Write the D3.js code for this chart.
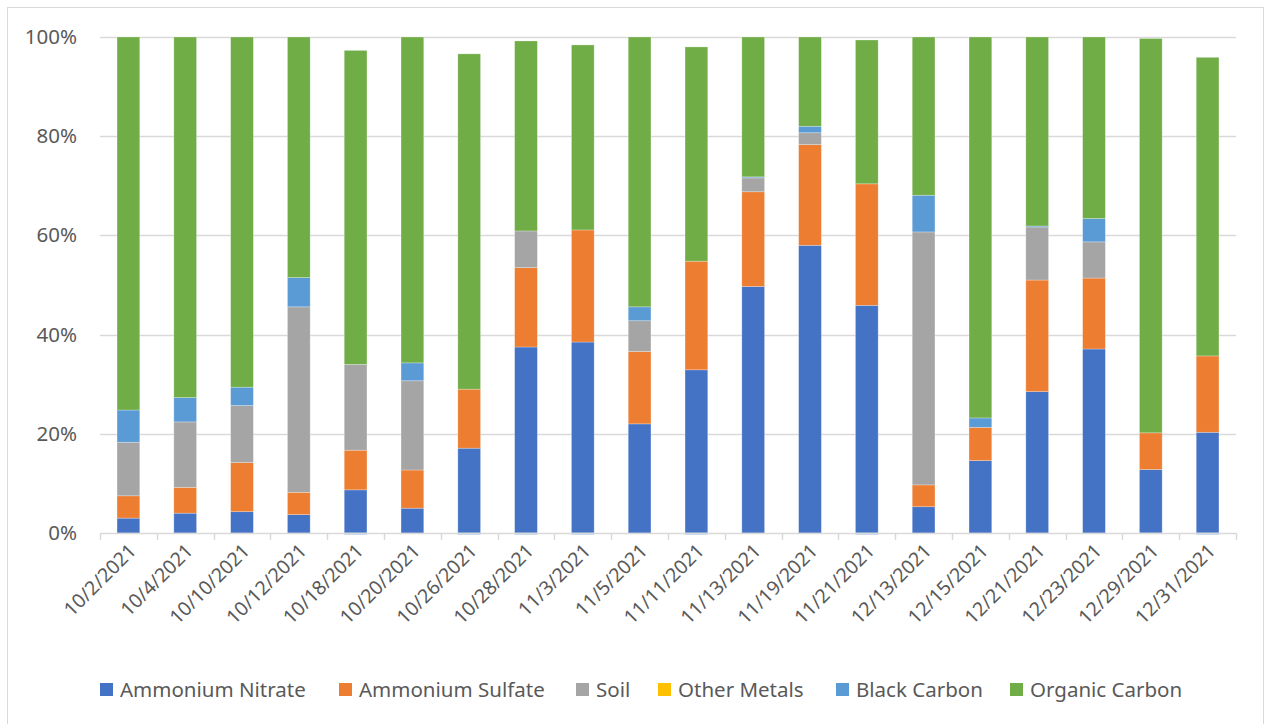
<!DOCTYPE html>
<html>
<head>
<meta charset="utf-8">
<script src="https://cdn.jsdelivr.net/npm/d3@7"></script>
<style>
    body { margin: 0; background: #fff; }
    text { font-family: "Noto Sans", "Open Sans", sans-serif; fill: #595959; }
</style>
</head>
<body>
<script>
(function() {

    //sample dates
    var dates = ["10/2/2021","10/4/2021","10/10/2021","10/12/2021","10/18/2021","10/20/2021",
        "10/26/2021","10/28/2021","11/3/2021","11/5/2021","11/11/2021","11/13/2021",
        "11/19/2021","11/21/2021","12/13/2021","12/15/2021","12/21/2021","12/23/2021",
        "12/29/2021","12/31/2021"];

    //series names and colours
    var seriesNames = ["Ammonium Nitrate","Ammonium Sulfate","Soil","Other Metals","Black Carbon","Organic Carbon"];
    var seriesColors = ["#4472C4","#ED7D31","#A5A5A5","#FFC000","#5B9BD5","#70AD47"];

    //percent of total
    var ammoniumNitrate = [3.0,4.0,4.3,3.7,8.7,5.0,17.1,37.5,38.5,22.0,32.9,49.7,58.0,45.9,5.3,14.6,28.5,37.1,12.8,20.3];
    var ammoniumSulfate = [4.5,5.2,9.9,4.5,8.0,7.7,11.9,16.0,22.6,14.6,21.9,19.1,20.3,24.5,4.4,6.7,22.5,14.3,7.4,15.4];
    var soil            = [10.8,13.2,11.5,37.4,17.3,18.0,0,7.4,0,6.2,0,2.8,2.4,0,51.0,0,10.7,7.3,0,0];
    var otherMetals     = [0,0,0,0,0,0,0,0,0,0,0,0,0,0,0,0,0,0,0,0];
    var blackCarbon     = [6.5,4.9,3.7,5.9,-0.3,3.6,-0.3,-0.3,-0.3,2.8,-0.3,0.2,1.3,-0.3,7.4,1.9,0.2,4.7,-0.2,-0.3];
    var organicCarbon   = [75.2,72.7,70.6,48.5,63.3,65.7,67.6,38.3,37.3,54.4,43.2,28.2,18.0,29.0,31.9,76.8,38.1,36.6,79.5,60.2];

    var yTicks = [0,20,40,60,80,100];

    var allSeries = [ammoniumNitrate, ammoniumSulfate, soil, otherMetals, blackCarbon, organicCarbon];

    var width = 1266, height = 724;
    var margin = {left: 100, right: 30, top: 37, bottom: 191};
    var innerW = width - margin.left - margin.right,
        innerH = height - margin.top - margin.bottom;

    var svg = d3.select("body").append("svg")
        .attr("width", width)
        .attr("height", height);

    //outer chart border
    svg.append("rect")
        .attr("x", 7.5).attr("y", 7.5)
        .attr("width", 1256).attr("height", 730)
        .attr("fill", "none")
        .attr("stroke", "#d9d9d9")
        .attr("stroke-width", 1);

    var g = svg.append("g")
        .attr("transform", "translate(" + margin.left + "," + margin.top + ")");

    var x = d3.scaleBand()
        .domain(dates)
        .range([0, innerW])
        .paddingInner(0.6)
        .paddingOuter(0.3);

    var xOuter = d3.scaleBand()
        .domain(dates)
        .range([0, innerW]);

    var y = d3.scaleLinear()
        .domain([0, 100])
        .range([innerH, 0]);

    //gridlines
    g.selectAll(".grid")
        .data(yTicks.slice(1))
        .enter()
        .append("line")
        .attr("class", "grid")
        .attr("x1", 0).attr("x2", innerW)
        .attr("y1", d => Math.round(y(d)) + 0.5)
        .attr("y2", d => Math.round(y(d)) + 0.5)
        .attr("stroke", "#d9d9d9")
        .attr("stroke-width", 1.5);

    //y axis labels
    var yAxis = d3.axisLeft(y)
        .tickValues(yTicks)
        .tickSize(0)
        .tickPadding(23)
        .tickFormat(d => d + "%");
    var ya = g.append("g").call(yAxis);
    ya.select(".domain").remove();
    ya.selectAll("text").style("font-size", "20.5px").attr("fill", "#595959");

    //build stack rows (positive and negative stacked separately like Excel)
    var rows = dates.map(function(d, i) {
        var posBase = 0, negBase = 0;
        return allSeries.map(function(s, k) {
            var v = s[i], y0, y1;
            if (v >= 0) { y0 = posBase; y1 = posBase + v; posBase = y1; }
            else { y1 = negBase; y0 = negBase + v; negBase = y0; }
            return {date: d, key: k, y0: y0, y1: y1};
        });
    });

    var segs = [];
    rows.forEach(r => r.forEach(s => { if (s.y1 !== s.y0) segs.push(s); }));

    g.selectAll(".seg")
        .data(segs)
        .enter()
        .append("rect")
        .attr("class", "seg")
        .attr("x", d => x(d.date))
        .attr("width", x.bandwidth())
        .attr("y", d => y(d.y1))
        .attr("height", d => y(d.y0) - y(d.y1))
        .attr("fill", d => seriesColors[d.key])
        .attr("stroke", "#ffffff")
        .attr("stroke-opacity", 0.35)
        .attr("stroke-width", 0.75);

    //x axis
    var xAxis = d3.axisBottom(xOuter)
        .tickSize(0)
        .tickPadding(0);
    var xa = g.append("g")
        .attr("transform", "translate(0," + innerH + ")")
        .call(xAxis);
    xa.select(".domain").attr("stroke", "#d9d9d9").attr("stroke-width", 1.5);
    xa.selectAll("text")
        .style("font-size", "19.5px")
        .attr("fill", "#595959")
        .attr("text-anchor", "end")
        .attr("dy", null)
        .attr("y", 0)
        .attr("transform", "translate(9,19) rotate(-45)");

    //x category separator ticks
    var bounds = dates.map(d => xOuter(d)).concat([innerW]);
    g.selectAll(".xtick")
        .data(bounds)
        .enter()
        .append("line")
        .attr("x1", d => Math.round(d) + 0.5)
        .attr("x2", d => Math.round(d) + 0.5)
        .attr("y1", innerH)
        .attr("y2", innerH + 7)
        .attr("stroke", "#d9d9d9")
        .attr("stroke-width", 1.5);

    //legend
    var legendX = [100, 339, 576, 658, 836, 1010];
    var legend = svg.selectAll(".legend")
        .data(seriesNames)
        .enter()
        .append("g")
        .attr("class", "legend")
        .attr("transform", (d, i) => "translate(" + legendX[i] + ",683)");
    legend.append("rect")
        .attr("width", 13).attr("height", 13)
        .attr("fill", (d, i) => seriesColors[i]);
    legend.append("text")
        .attr("x", 20)
        .attr("y", 7)
        .attr("dy", "0.35em")
        .style("font-size", "20.5px")
        .text(d => d);

})();
</script>
</body>
</html>
